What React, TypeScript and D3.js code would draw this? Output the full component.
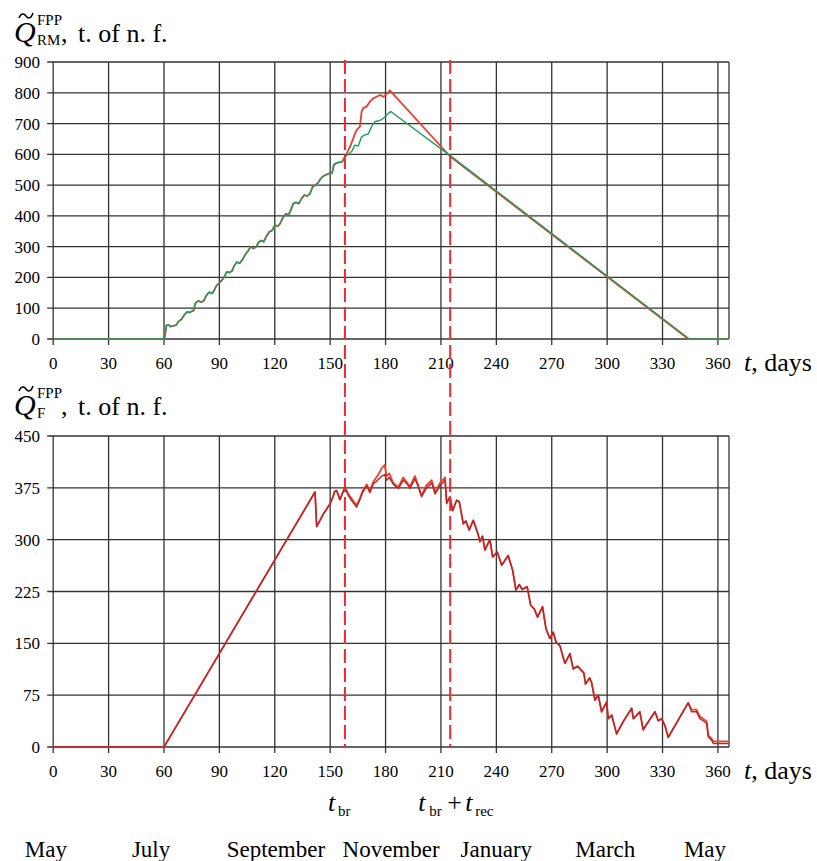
import React from 'react';
import * as d3 from 'd3';

type Pt = [number, number];

const xTicks = [0, 30, 60, 90, 120, 150, 180, 210, 240, 270, 300, 330, 360];
const topYTicks = [0, 100, 200, 300, 400, 500, 600, 700, 800, 900];
const botYTicks = [0, 75, 150, 225, 300, 375, 450];
const months = ['May', 'July', 'September', 'November', 'January', 'March', 'May'];
const monthDays = [-4, 53, 120.6, 183, 240, 299, 353];
const breakDay = 158;
const recoveryEndDay = 215;

// Top panel: shared part of both series (day, value)
const topShared: Pt[] = [
  [0, 0], [60, 0], [60.5, 8], [61.3, 44], [62.5, 46], [63.5, 40], [65, 43], [66.5, 45], [68, 58],
  [69.5, 64], [71, 78], [72.5, 88], [74, 86], [75, 90], [76, 92], [77, 116], [78.5, 124], [80, 120],
  [81.5, 124], [83, 142], [84.5, 152], [86, 148], [87, 156], [88.5, 174], [90, 182], [91.5, 192],
  [92.5, 200], [94, 218], [95.5, 216], [97, 222], [98, 238], [99.5, 250], [101, 246], [102.5, 258],
  [104, 274], [105.5, 286], [107, 300], [108.5, 294], [110, 300], [111, 312], [112.5, 320], [114, 316],
  [115.5, 334], [117, 348], [118.5, 352], [120, 370], [121.5, 366], [123, 376], [124.5, 396], [126, 406],
  [127.5, 404], [128.5, 416], [130, 440], [131.5, 444], [133, 440], [134.5, 456], [136, 468], [137.5, 464],
  [139, 472], [140.5, 494], [142, 500], [143.5, 508], [145, 522], [146.5, 530], [148, 534], [149.5, 538],
  [151, 538], [152, 566], [153.5, 572], [155, 574], [156.5, 576], [158, 592],
];
const topRedTail: Pt[] = [
  [159.8, 614], [161, 628], [162.5, 652], [163.5, 668], [164.3, 679], [166.1, 690], [167, 738],
  [167.9, 750], [169.7, 755], [171.5, 771], [173.3, 782], [175.1, 787], [177, 793], [178.8, 787],
  [180.6, 796], [182.4, 808], [183.3, 801], [215, 593], [344, 0], [366, 0],
];
const topGreenTail: Pt[] = [
  [159.8, 600], [161.6, 609], [163.4, 630], [165.2, 627], [167, 657], [168.8, 663], [170.6, 666],
  [172.4, 690], [174.2, 706], [176.1, 709], [177.9, 713], [179.7, 722], [181.5, 733], [182.8, 739],
  [215, 596], [344.5, 0], [366, 0],
];

// Bottom panel
const botStart: Pt[] = [
  [0, 0], [60, 0], [141.8, 369], [142.7, 319], [144.5, 328], [146.5, 338], [148.5, 346], [150, 352],
  [151.5, 362], [152.5, 370], [153.5, 371], [155.3, 358], [157.1, 370], [158, 376],
];
const botDarkMid: Pt[] = [
  [159.8, 364], [161.5, 357], [163, 352], [164.3, 347], [166, 357], [167.5, 368], [169.8, 378],
  [171.5, 368], [173.4, 381], [175, 384], [176.5, 388], [178, 392], [179.5, 394], [180.6, 386],
  [182, 390], [184.2, 380], [186.9, 374], [189.6, 386], [191.8, 380], [193.2, 374], [195.9, 388],
  [197.5, 378], [199.5, 362], [202, 374], [205, 382], [206.8, 366], [209.5, 378], [212.2, 386], [213.1, 352],
];
const botBrightMid: Pt[] = [
  [159.8, 366], [161.5, 360], [163, 354], [164.3, 350], [166, 359], [167.5, 370], [169.8, 380],
  [171.5, 370], [173.4, 384], [175, 390], [176.5, 396], [178, 404], [179.5, 408], [180.6, 392],
  [182, 396], [184.2, 382], [186.9, 376], [189.6, 390], [191.8, 382], [193.2, 377], [195.9, 392],
  [197.5, 380], [199.5, 364], [202, 378], [205, 386], [206.8, 368], [209.5, 382], [212.2, 390], [213.1, 354],
];
const botDecline: Pt[] = [
  [214.9, 362], [216.3, 342], [218.5, 357], [219.9, 355], [222.1, 323], [223.5, 327], [225.3, 314],
  [227.5, 328], [230.2, 307], [231.1, 297], [232.5, 305], [233.8, 285], [236.5, 300], [238, 275],
  [240.5, 282], [242.9, 263], [246.4, 277], [248.8, 256], [250.6, 227], [252.4, 235], [254, 228],
  [256.7, 232], [258.6, 205], [260.5, 200], [262.3, 188], [265, 203], [266.9, 171], [269, 157],
  [270.8, 166], [272.3, 152], [274.5, 146], [277.1, 121], [279.9, 135], [281.6, 113], [284, 117],
  [287.4, 107], [288.3, 91], [290.5, 100], [291.6, 93], [293.4, 68], [295.2, 75], [297, 51],
  [299.7, 65], [300.6, 41], [302.5, 46], [305.1, 19], [309, 38], [313.3, 56], [314.2, 41], [316, 46],
  [317.7, 51], [319.5, 25], [325.9, 51], [327.7, 38], [329.5, 41], [331.3, 31], [333.1, 14], [343.9, 64],
];
const botDarkEnd: Pt[] = [
  [345.7, 51], [348.4, 51], [350.2, 41], [352, 38], [353.9, 34], [354.8, 14], [356.6, 10], [357.5, 5], [366, 5],
];
const botBrightEnd: Pt[] = [
  [345.7, 54], [348.4, 54], [350.2, 44], [352, 41], [353.9, 37], [354.8, 17], [356.6, 12], [357.5, 8], [366, 8],
];

const FONT = "'Liberation Serif','Times New Roman',serif";
const GRID = '#333';
const LEFT = 53.2;
const RIGHT = 729;

function Panel({ y, ticks, top, bottom }: { y: d3.ScaleLinear<number, number>; ticks: number[]; top: number; bottom: number }) {
  const x = d3.scaleLinear().domain([0, 366]).range([LEFT, RIGHT]);
  return (
    <g>
      {ticks.map((t) => (
        <g key={'h' + t}>
          <line x1={LEFT - 6} x2={RIGHT} y1={y(t)} y2={y(t)} stroke={GRID} strokeWidth={1.3} />
          <text x={40} y={y(t) + 6} textAnchor="end" fontSize={17} fontFamily={FONT}>{t}</text>
        </g>
      ))}
      {xTicks.map((t) => (
        <g key={'v' + t}>
          <line x1={x(t)} x2={x(t)} y1={top} y2={bottom + 6} stroke={GRID} strokeWidth={1.3} />
          <text x={x(t)} y={bottom + 30} textAnchor="middle" fontSize={17} fontFamily={FONT}>{t}</text>
        </g>
      ))}
      <line x1={RIGHT} x2={RIGHT} y1={top} y2={bottom} stroke={GRID} strokeWidth={1.3} />
      <text x={744} y={bottom + 32} fontSize={26} fontFamily={FONT}>
        <tspan fontStyle="italic">t</tspan>, days
      </text>
    </g>
  );
}

function Title({ baseline, sub }: { baseline: number; sub: string }) {
  const b = baseline;
  return (
    <g fontFamily={FONT}>
      <path d={`M19,${b - 24} C21,${b - 29} 24,${b - 29} 26,${b - 26} S31,${b - 23} 33,${b - 29}`} fill="none" stroke="#000" strokeWidth={1.5} />
      <text x={14} y={b} fontSize={30} fontStyle="italic">Q</text>
      <text x={37} y={b - 17} fontSize={15}>FPP</text>
      <text x={37} y={b + 3} fontSize={15}>{sub}</text>
      <text x={61} y={b} fontSize={26}>,</text>
      <text x={78} y={b} fontSize={26}>t. of n. f.</text>
    </g>
  );
}

export default function App() {
  const x = d3.scaleLinear().domain([0, 366]).range([LEFT, RIGHT]);
  const yT = d3.scaleLinear().domain([0, 900]).range([339, 62]);
  const yB = d3.scaleLinear().domain([0, 450]).range([747, 436]);
  const lineT = d3.line<Pt>().x((d) => x(d[0])).y((d) => yT(d[1]));
  const lineB = d3.line<Pt>().x((d) => x(d[0])).y((d) => yB(d[1]));

  const topRed = [...topShared, ...topRedTail];
  const topGreen = [...topShared, ...topGreenTail];
  const botDark = [...botStart, ...botDarkMid, ...botDecline, ...botDarkEnd];
  const botBright = [...botStart, ...botBrightMid, ...botDecline, ...botBrightEnd];

  return (
    <svg width={817} height={861} style={{ position: 'absolute', left: 0, top: 0, background: '#fff' }}>
      <rect width={817} height={861} fill="#fff" />
      <Title baseline={42} sub="RM" />
      <Title baseline={415} sub="F" />
      <Panel y={yT} ticks={topYTicks} top={62} bottom={339} />
      <Panel y={yB} ticks={botYTicks} top={436} bottom={747} />

      <path d={lineT(topRed) || ''} fill="none" stroke="#e8402e" strokeWidth={1.8} strokeLinejoin="round" />
      <path d={lineT(topGreen) || ''} fill="none" stroke="#1e9e62" strokeWidth={1.4} strokeLinejoin="round" />

      <path d={lineB(botBright) || ''} fill="none" stroke="#f0402c" strokeWidth={1.8} strokeLinejoin="round" />
      <path d={lineB(botDark) || ''} fill="none" stroke="#b82428" strokeWidth={1.4} strokeLinejoin="round" />

      {[breakDay, recoveryEndDay].map((d) => (
        <line key={d} x1={x(d)} x2={x(d)} y1={60} y2={747} stroke="#ec2a30" strokeWidth={2} strokeDasharray="14,5" />
      ))}

      <g fontFamily={FONT}>
        <text x={x(breakDay) - 17} y={811} fontSize={26} fontStyle="italic">t</text>
        <text x={x(breakDay) - 7} y={816} fontSize={15}>br</text>
        <text x={x(recoveryEndDay) - 32} y={811} fontSize={26} fontStyle="italic">t</text>
        <text x={x(recoveryEndDay) - 21} y={816} fontSize={15}>br</text>
        <text x={x(recoveryEndDay) - 3} y={811} fontSize={26}>+</text>
        <text x={x(recoveryEndDay) + 15} y={811} fontSize={26} fontStyle="italic">t</text>
        <text x={x(recoveryEndDay) + 25} y={816} fontSize={15}>rec</text>
      </g>

      {months.map((m, i) => (
        <text key={i} x={x(monthDays[i])} y={857} textAnchor="middle" fontSize={23} fontFamily={FONT}>{m}</text>
      ))}
    </svg>
  );
}
